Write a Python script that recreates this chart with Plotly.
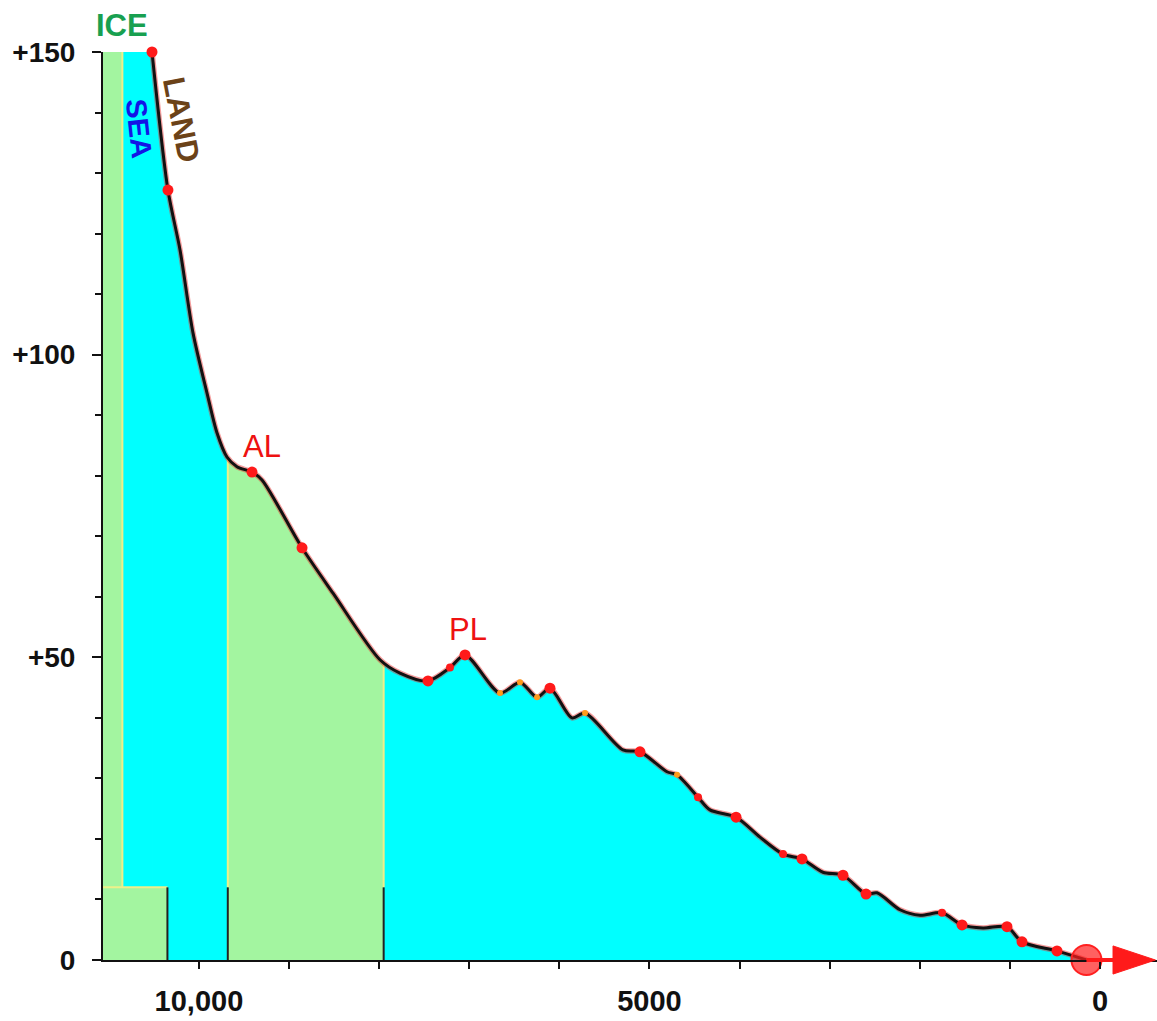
import plotly.graph_objects as go

# Sea-level curve: years before present vs. metres above present level
years = [10521, 10344, 10210, 10066, 9911, 9800, 9689, 9578, 9411, 9300,
         8856, 8512, 7991, 7769, 7458, 7214, 7047, 6659, 6437, 6248,
         6104, 5860, 5715, 5294, 5105, 4805, 4694, 4461, 4328, 4039,
         3773, 3518, 3307, 3074, 2852, 2596, 2474, 2219, 1997, 1753,
         1531, 1298, 1032, 865, 477, 150]
level = [150.0, 127.2, 117.3, 103.6, 93.7, 87.1, 83.1, 81.5, 80.6, 79.3,
         68.1, 60.6, 49.6, 47.4, 46.1, 48.3, 50.4, 44.1, 45.9, 43.4,
         44.9, 40.0, 40.8, 34.7, 34.4, 31.1, 30.6, 26.9, 24.8, 23.6,
         20.3, 17.5, 16.7, 14.5, 14.0, 10.9, 11.1, 8.3, 7.4, 7.8,
         5.8, 5.3, 5.5, 3.0, 1.5, 0.0]

# dated points along the curve
dot_years = [10521, 10344, 9411, 8856, 7458, 7047, 6104, 5105, 4039, 3307,
             2852, 2596, 1531, 1032, 865, 477]
dot_level = [150.0, 127.2, 80.6, 68.1, 46.1, 50.4, 44.9, 34.4, 23.6, 16.7,
             14.0, 10.9, 5.8, 5.5, 3.0, 1.5]
small_dot_years = [7214, 4461, 3518, 1753]
small_dot_level = [48.3, 26.9, 17.5, 7.8]
orange_years = [6659, 6437, 6248, 5715, 4694]
orange_level = [44.1, 45.9, 43.4, 40.8, 30.6]

# ice-covered periods
ice_edge = 10850          # edge of the tall ice strip
ice_box_end = 10350       # end of the low ice block
ice_box_top = 12
band_start, band_end = 9680, 7950
band_start_top, band_end_top = 83.0, 49.3

present_mark = 150
x_left, x_right = 11065, -633

x_ticks = list(range(10000, -1, -1000))
x_labels = ["10,000" if v == 10000 else "5000" if v == 5000 else "0" if v == 0 else "" for v in x_ticks]
y_ticks = [0, 50, 100, 150]
y_labels = ["0", "+50", "+100", "+150"]

CYAN = "#00FFFF"
GREEN = "#A3F5A0"
YELLOW = "#EEF08A"

fig = go.Figure()

# flat sea surface between the ice strip and the land curve
fig.add_trace(go.Scatter(x=[ice_edge, years[0], years[0], ice_edge],
                         y=[0, 0, level[0], level[0]], fill="toself",
                         fillcolor=CYAN, line=dict(width=0), mode="lines",
                         hoverinfo="skip"))
# sea under the curve
fig.add_trace(go.Scatter(x=years, y=level, fill="tozeroy", fillcolor=CYAN,
                         line=dict(width=0, shape="spline", smoothing=0.8),
                         mode="lines", hoverinfo="skip"))
# ice band under the curve
bx = [band_start] + [x for x in years if band_end < x < band_start] + [band_end]
by = [band_start_top] + [y for x, y in zip(years, level) if band_end < x < band_start] + [band_end_top]
fig.add_trace(go.Scatter(x=bx, y=by, fill="tozeroy", fillcolor=GREEN,
                         line=dict(width=0, shape="spline", smoothing=0.8),
                         mode="lines", hoverinfo="skip"))
# tall ice strip and low ice block
fig.add_trace(go.Scatter(x=[x_left, ice_edge, ice_edge, x_left],
                         y=[0, 0, 150, 150], fill="toself", fillcolor=GREEN,
                         line=dict(width=0), mode="lines", hoverinfo="skip"))
fig.add_trace(go.Scatter(x=[x_left, ice_box_end, ice_box_end, x_left],
                         y=[0, 0, ice_box_top, ice_box_top], fill="toself",
                         fillcolor=GREEN, line=dict(width=0), mode="lines",
                         hoverinfo="skip"))
# pale edges of ice areas
for xs, ys in [([ice_edge, ice_edge], [ice_box_top, 150]),
               ([x_left, ice_box_end], [ice_box_top, ice_box_top]),
               ([band_start, band_start], [ice_box_top, band_start_top]),
               ([band_end, band_end], [ice_box_top, band_end_top])]:
    fig.add_trace(go.Scatter(x=xs, y=ys, mode="lines",
                             line=dict(color=YELLOW, width=2), hoverinfo="skip"))
# dark markers at the foot of ice periods
for xv in [ice_box_end, band_start, band_end]:
    fig.add_trace(go.Scatter(x=[xv, xv], y=[0, ice_box_top], mode="lines",
                             line=dict(color="#222", width=2), hoverinfo="skip"))

# the curve
fig.add_trace(go.Scatter(x=years, y=level, mode="lines",
                         line=dict(color="rgba(230,40,40,0.45)", width=5.5,
                                   shape="spline", smoothing=0.8),
                         hoverinfo="skip"))
fig.add_trace(go.Scatter(x=years, y=level, mode="lines",
                         line=dict(color="#111", width=3, shape="spline", smoothing=0.8),
                         hoverinfo="skip"))

fig.add_trace(go.Scatter(x=orange_years, y=orange_level, mode="markers",
                         marker=dict(color="#FF9A1A", size=6), cliponaxis=False))
fig.add_trace(go.Scatter(x=small_dot_years, y=small_dot_level, mode="markers",
                         marker=dict(color="#FF1A1A", size=8), cliponaxis=False))
fig.add_trace(go.Scatter(x=dot_years, y=dot_level, mode="markers",
                         marker=dict(color="#FF1A1A", size=11), cliponaxis=False))

# present-day marker
fig.add_trace(go.Scatter(x=[present_mark], y=[0], mode="markers",
                         marker=dict(color="rgba(255,30,30,0.7)", size=30,
                                     line=dict(color="#FF2020", width=2)),
                         cliponaxis=False, hoverinfo="skip"))

# arrow continuing the time axis
arrow_base, arrow_tip, half_h = -145, -615, 0.0155
fig.add_shape(type="line", xref="x", yref="paper", x0=present_mark, x1=arrow_base,
              y0=0, y1=0, line=dict(color="#FF1A1A", width=4))
fig.add_shape(type="path", xref="x", yref="paper",
              path=f"M {arrow_base},{half_h} L {arrow_tip},0 L {arrow_base},{-half_h} Z",
              fillcolor="#FF1A1A", line=dict(color="#FF1A1A", width=1))

ann = [
    dict(text="<b>ICE</b>", x=10854, y=1.0295, yref="paper", font=dict(color="#18A050", size=31), textangle=0),
    dict(text="<b>SEA</b>", x=10665, y=137.3, yref="y", font=dict(color="#1414E6", size=29), textangle=84),
    dict(text="<b>LAND</b>", x=10199, y=138.8, yref="y", font=dict(color="#6B4218", size=31), textangle=79),
    dict(text="AL", x=9300, y=84.9, yref="y", font=dict(color="#EE1111", size=31), textangle=0),
    dict(text="PL", x=7014, y=54.6, yref="y", font=dict(color="#EE1111", size=31), textangle=0),
]
for a in ann:
    fig.add_annotation(text=a["text"], x=a["x"], y=a["y"], xref="x", yref=a["yref"],
                       xanchor="center", yanchor="middle",
                       showarrow=False, textangle=a["textangle"],
                       font=dict(family="Liberation Sans, Arial, sans-serif", **a["font"]))

fig.update_layout(
    width=1157, height=1021,
    margin=dict(l=103, r=0, t=52, b=61),
    paper_bgcolor="white", plot_bgcolor="white",
    showlegend=False,
    xaxis=dict(range=[x_left, x_right], tickvals=x_ticks, ticktext=x_labels,
               ticks="outside", ticklen=7, tickwidth=2, tickcolor="#111",
               showline=True, linecolor="#111", linewidth=2,
               showgrid=False, zeroline=False, ticklabelstandoff=7,
               tickfont=dict(family="Liberation Sans, Arial",
                             size=29, color="#111", weight="bold")),
    yaxis=dict(range=[0, 150], tickvals=y_ticks, ticktext=y_labels,
               ticks="outside", ticklen=9, tickwidth=2, tickcolor="#111",
               minor=dict(dtick=10, ticks="outside", ticklen=6, tickwidth=2,
                          tickcolor="#111"),
               showline=True, linecolor="#111", linewidth=2,
               showgrid=False, zeroline=False, ticklabelstandoff=11,
               tickfont=dict(family="Liberation Sans, Arial", size=28,
                             color="#111", weight="bold")),
)

fig.write_html("out.html")
